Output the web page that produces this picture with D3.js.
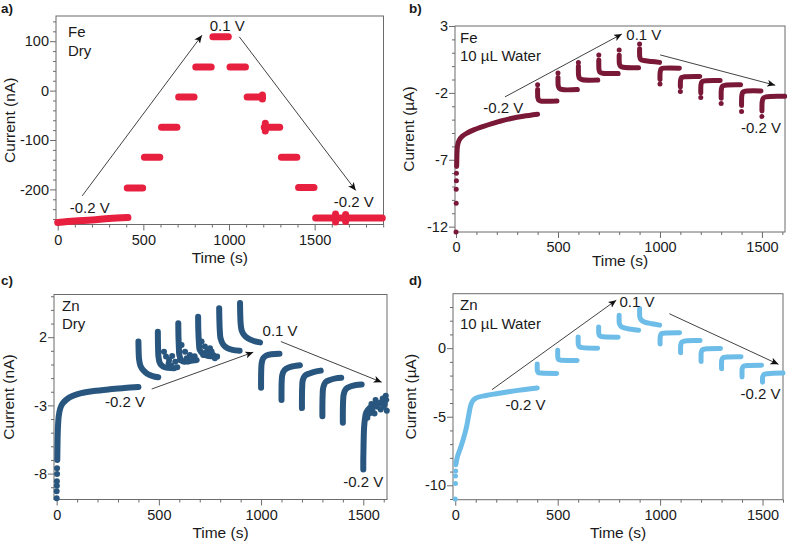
<!DOCTYPE html>
<html><head><meta charset="utf-8">
<script src="https://cdn.jsdelivr.net/npm/d3@7"></script>
<style>
body{margin:0;background:#fff}
svg{display:block}
text{font-family:"Liberation Sans",Arial,Helvetica,sans-serif;fill:#1a1a1a}
</style></head><body>
<svg id="chart" width="787" height="542"></svg>
<script>
// ---------------- DATA ----------------
const timeTickLabels = [0, 500, 1000, 1500];

// a) Fe, Dry — current in nA
const feDryYTicks = [-200, -100, 0, 100];
const feDrySegments = [
  [[0,-267],[100,-264],[200,-262],[300,-259],[410,-257]],
  [[406,-197],[496,-197]],
  [[506,-135],[596,-135]],
  [[606,-74],[696,-74]],
  [[706,-13],[796,-13]],
  [[806,48],[896,48]],
  [[906,109],[996,109]],
  [[1006,48],[1096,48]],
  [[1106,-13],[1196,-13]],
  [[1206,-74],[1296,-74]],
  [[1306,-135],[1396,-135]],
  [[1406,-196],[1496,-196]],
  [[1506,-258],[1895,-258]]
];
const feDryIsolated = [[1195,-9],[1195,-17],[1212,-66],[1212,-82],[1208,-74],[1622,-250],[1622,-266],[1681,-251],[1681,-265]];
const feDryArrows = [[[143,-213],[842,112]], [[1060,109],[1740,-202]]];
const feDryVoltLabels = [["-0.2 V",187,-237],["0.1 V",990,131],["-0.2 V",1729,-224]];

// b) Fe, 10 µL water — current in µA
const feWetYTicks = [-12, -7, -2, 3];
const feWetSegments = [
  [[3,-7.5],[4,-7.0],[5,-6.4],[8,-5.9],[15,-5.55],[30,-5.25],[55,-5.0],[90,-4.75],[135,-4.5],[180,-4.28],[220,-4.1],[270,-3.92],[330,-3.75],[400,-3.6]],
  [[400,-1.75],[400,-2.05],[401,-2.35],[406,-2.55],[420,-2.62],[495,-2.6]],
  [[500,-0.85],[500,-1.15],[501,-1.45],[506,-1.65],[520,-1.75],[595,-1.75]],
  [[600,0.0],[600,-0.35],[601,-0.7],[606,-0.92],[620,-1.02],[695,-1.04]],
  [[700,0.45],[700,0.1],[701,-0.25],[706,-0.45],[720,-0.53],[795,-0.55]],
  [[800,0.82],[800,0.5],[801,0.2],[806,0.0],[820,-0.08],[895,-0.12]],
  [[900,1.3],[900,1.0],[901,0.7],[906,0.5],[920,0.42],[960,0.35],[998,0.28]],
  [[1000,-1.0],[1000,-0.7],[1001,-0.45],[1006,-0.2],[1020,-0.15],[1095,-0.15]],
  [[1100,-1.55],[1100,-1.3],[1101,-1.05],[1106,-0.85],[1120,-0.8],[1195,-0.78]],
  [[1200,-2.0],[1200,-1.7],[1201,-1.4],[1206,-1.17],[1220,-1.1],[1295,-1.08]],
  [[1300,-2.4],[1300,-2.05],[1301,-1.75],[1306,-1.5],[1320,-1.43],[1395,-1.4]],
  [[1400,-2.95],[1400,-2.6],[1401,-2.25],[1406,-1.95],[1420,-1.87],[1495,-1.85]],
  [[1500,-3.35],[1500,-3.0],[1501,-2.7],[1506,-2.4],[1520,-2.3],[1612,-2.26]]
];
const feWetIsolated = [[0,-12.4],[1,-10.25],[1,-9.2],[2,-8.56],[2,-8.0],
  [400,-1.4],[500,-0.52],[600,0.28],[700,0.83],[800,1.2],[900,1.66],
  [1000,-1.33],[1100,-1.9],[1200,-2.35],[1300,-2.8],[1400,-3.4],[1500,-3.76]];
const feWetArrows = [[[240,-2.3],[813,2.4]], [[1001,0.84],[1565,-1.43]]];
const feWetVoltLabels = [["-0.2 V",232,-3.1],["0.1 V",921,2.35],["-0.2 V",1495,-4.59]];

// c) Zn, Dry — current in nA
const znDryYTicks = [-8, -3, 2];
const znDrySegments = [
  [[3,-7.0],[4,-6.0],[5,-5.2],[7,-4.4],[10,-3.8],[18,-3.2],[30,-2.85],[50,-2.55],[80,-2.3],[120,-2.1],[180,-1.95],[260,-1.82],[330,-1.73],[400,-1.65]],
  [[400,1.68],[401,1.0],[403,0.4],[410,-0.1],[425,-0.45],[445,-0.7],[470,-0.85],[497,-0.94]],
  [[495,2.4],[496,1.3],[498,0.58],[505,0.1],[520,-0.15],[545,-0.25],[575,-0.28]],
  [[595,3.03],[596,2.0],[598,1.2],[600,0.7],[610,0.3],[625,0.2],[650,0.25],[685,0.33]],
  [[692,3.5],[693,2.5],[696,1.6],[700,1.07],[715,0.8],[735,0.65],[760,0.6],[785,0.58]],
  [[795,4.13],[796,3.3],[798,2.5],[802,1.9],[815,1.45],[835,1.2],[860,1.07],[895,1.0]],
  [[897,4.5],[898,3.7],[900,3.0],[905,2.5],[915,2.2],[935,1.92],[965,1.72],[995,1.62]],
  [[1000,-1.7],[1000,-1.0],[1001,-0.3],[1003,0.1],[1010,0.45],[1025,0.65],[1050,0.75],[1090,0.78]],
  [[1100,-2.6],[1100,-1.8],[1101,-1.2],[1104,-0.75],[1115,-0.4],[1135,-0.22],[1160,-0.12],[1190,-0.05]],
  [[1200,-3.2],[1200,-2.4],[1201,-1.7],[1204,-1.15],[1215,-0.82],[1240,-0.64],[1265,-0.52],[1292,-0.45]],
  [[1300,-3.79],[1300,-3.0],[1301,-2.3],[1304,-1.7],[1315,-1.3],[1340,-1.12],[1365,-1.02],[1392,-0.97]],
  [[1400,-4.28],[1400,-3.5],[1401,-2.8],[1404,-2.2],[1415,-1.8],[1440,-1.6],[1465,-1.5],[1492,-1.46]],
  [[1500,-7.7],[1500,-7.0],[1501,-6.2],[1502,-5.4],[1504,-4.6],[1508,-4.0],[1515,-3.5],[1530,-3.2],[1550,-3.0],[1575,-2.85],[1600,-2.7],[1612,-2.6]]
];
const znDryIsolated = [[0,-9.8],[0,-9.3],[1,-8.9],[1,-8.57],[2,-8.03],[2,-7.6],
  [525,0.94],[535,0.58],[550,0.33],[548,0.09],[565,0.62],[590,-0.2],[580,0.2],[560,-0.1],
  [611,1.43],[628,0.94],[636,0.45],[652,0.7],[668,0.33],[603,0.33],[644,0.21],[660,0.55],[675,0.6],
  [709,1.68],[725,1.31],[734,0.94],[750,1.19],[766,0.7],[717,0.7],[774,0.45],[742,0.85],[758,0.95],
  [1520,-3.9],[1530,-3.6],[1545,-3.3],[1560,-2.6],[1585,-3.3],[1600,-3.1],[1610,-2.3],[1595,-2.5],
  [1570,-3.1],[1540,-2.9],[1555,-3.6],[1615,-3.4],[1605,-2.9]];
const znDryArrows = [[[465,-1.8],[962,0.9]], [[1097,1.68],[1590,-1.3]]];
const znDryVoltLabels = [["-0.2 V",334,-2.7],["0.1 V",1093,2.5],["-0.2 V",1500,-8.57]];

// d) Zn, 10 µL water — current in µA
const znWetYTicks = [-10, -5, 0];
const znWetSegments = [
  [[3,-8.5],[10,-7.95],[25,-7.3],[40,-6.6],[55,-5.75],[65,-4.95],[75,-4.2],[85,-3.85],[100,-3.65],[150,-3.45],[200,-3.32],[260,-3.18],[330,-3.03],[400,-2.9]],
  [[400,-1.16],[400,-1.4],[401,-1.65],[405,-1.78],[420,-1.82],[495,-1.85]],
  [[500,-0.15],[500,-0.4],[501,-0.7],[506,-0.85],[520,-0.88],[595,-0.9]],
  [[600,0.82],[600,0.55],[601,0.25],[606,0.1],[620,0.04],[695,0.0]],
  [[700,1.55],[700,1.3],[701,1.05],[707,0.88],[725,0.83],[795,0.8]],
  [[800,2.4],[800,2.1],[801,1.8],[808,1.6],[825,1.47],[860,1.38],[895,1.3]],
  [[900,2.89],[900,2.6],[901,2.28],[908,2.05],[925,1.9],[960,1.78],[998,1.68]],
  [[1000,0.3],[1000,0.6],[1001,0.85],[1006,1.05],[1025,1.1],[1095,1.12]],
  [[1100,-0.34],[1100,0.0],[1101,0.25],[1107,0.45],[1125,0.53],[1195,0.55]],
  [[1200,-0.97],[1200,-0.6],[1201,-0.3],[1207,-0.12],[1225,-0.05],[1295,-0.02]],
  [[1300,-1.5],[1300,-1.15],[1301,-0.87],[1307,-0.7],[1325,-0.65],[1395,-0.63]],
  [[1400,-2.1],[1400,-1.75],[1401,-1.48],[1407,-1.32],[1425,-1.27],[1495,-1.24]],
  [[1500,-2.48],[1500,-2.25],[1501,-2.09],[1507,-1.92],[1525,-1.86],[1600,-1.82]]
];
const znWetIsolated = [[0,-11.0],[1,-9.87],[1,-9.32],[2,-8.95]];
const znWetArrows = [[[179,-3.03],[786,3.5]], [[1045,2.51],[1578,-1.18]]];
const znWetVoltLabels = [["-0.2 V",343,-4.12],["0.1 V",887,3.37],["-0.2 V",1490,-3.3]];

// ---------------- LAYOUT ----------------
const panels = [
  {letter:"a)", lx:1, ly:12.5, box:{l:56,r:383.5,t:16,b:224.5}, xDom:[-10,1902], yDom:[-271,151],
   yTicks:feDryYTicks, yMinorStep:20, xMax:1900, color:"#e8203f", w:7,
   segs:feDrySegments, iso:feDryIsolated, arrows:feDryArrows, labels:feDryVoltLabels,
   yTitle:"Current (nA)", yTitleX:9, xTitleY:257, notes:["Fe","Dry"], noteX:68, noteY:[31,50]},
  {letter:"b)", lx:409, ly:12.5, box:{l:455,r:785,t:26,b:232}, xDom:[-5,1613], yDom:[-12.4,3],
   yTicks:feWetYTicks, yMinorStep:1, xMax:1600, color:"#7a1838", w:5,
   segs:feWetSegments, iso:feWetIsolated, arrows:feWetArrows, labels:feWetVoltLabels,
   yTitle:"Current (µA)", yTitleX:408, xTitleY:260, notes:["Fe","10 µL Water"], noteX:460, noteY:[37,55]},
  {letter:"c)", lx:1, ly:285, box:{l:54,r:387,t:294.5,b:499.5}, xDom:[-13,1616], yDom:[-9.9,5.13],
   yTicks:znDryYTicks, yMinorStep:1, xMax:1600, color:"#28567e", w:6,
   segs:znDrySegments, iso:znDryIsolated, arrows:znDryArrows, labels:znDryVoltLabels,
   yTitle:"Current (nA)", yTitleX:8, xTitleY:532.5, notes:["Zn","Dry"], noteX:62, noteY:[305,323]},
  {letter:"d)", lx:409, ly:285, box:{l:453,r:783,t:293.7,b:499.7}, xDom:[-11,1600], yDom:[-11.05,3.97],
   yTicks:znWetYTicks, yMinorStep:1, xMax:1600, color:"#6dbde8", w:5,
   segs:znWetSegments, iso:znWetIsolated, arrows:znWetArrows, labels:znWetVoltLabels,
   yTitle:"Current (µA)", yTitleX:410, xTitleY:532.5, notes:["Zn","10 µL Water"], noteX:460, noteY:[304,323]}
];

const svg = d3.select("#chart");
const defs = svg.append("defs");
defs.append("marker").attr("id","arrowHead")
  .attr("markerUnits","userSpaceOnUse").attr("markerWidth",9).attr("markerHeight",8)
  .attr("refX",8).attr("refY",3.5).attr("orient","auto")
  .append("path").attr("d","M0,0 L8,3.5 L0,7 L2,3.5 Z").attr("fill","#111");

const axisColor = "#6b6b6b";

panels.forEach(p => {
  const b = p.box;
  const x = d3.scaleLinear().domain(p.xDom).range([b.l, b.r]);
  const y = d3.scaleLinear().domain(p.yDom).range([b.b, b.t]);
  const g = svg.append("g");

  const yMinor = d3.range(Math.ceil(p.yDom[0]/p.yMinorStep)*p.yMinorStep, p.yDom[1], p.yMinorStep)
      .filter(v => !p.yTicks.includes(v));
  const xMinor = d3.range(0, p.xMax + 1, 100).filter(v => !timeTickLabels.includes(v));

  const ax = (sel) => { sel.select(".domain").remove(); sel.selectAll("line").attr("stroke",axisColor); };

  g.append("g").attr("transform",`translate(${b.l},0)`)
    .call(d3.axisLeft(y).tickValues(yMinor).tickSize(3).tickFormat("")).call(ax);
  g.append("g").attr("transform",`translate(0,${b.b})`)
    .call(d3.axisBottom(x).tickValues(xMinor).tickSize(3).tickFormat("")).call(ax);
  const yax = g.append("g").attr("transform",`translate(${b.l},0)`)
    .call(d3.axisLeft(y).tickValues(p.yTicks).tickSize(6).tickPadding(1).tickFormat(d => String(d))).call(ax);
  yax.selectAll("text").attr("font-size",14.5).attr("fill","#1a1a1a");
  const xax = g.append("g").attr("transform",`translate(0,${b.b})`)
    .call(d3.axisBottom(x).tickValues(timeTickLabels).tickSize(6).tickPadding(4).tickFormat(d => String(d))).call(ax);
  xax.selectAll("text").attr("font-size",14.5).attr("fill","#1a1a1a");

  g.append("rect").attr("x",b.l).attr("y",b.t).attr("width",b.r-b.l).attr("height",b.b-b.t)
    .attr("fill","none").attr("stroke",axisColor).attr("stroke-width",1);

  const line = d3.line().x(d => x(d[0])).y(d => y(d[1])).curve(d3.curveCatmullRom.alpha(0.5));
  g.append("g").selectAll("path").data(p.segs).join("path")
    .attr("d", line).attr("fill","none").attr("stroke",p.color)
    .attr("stroke-width",p.w).attr("stroke-linecap","round").attr("stroke-linejoin","round");
  g.append("g").selectAll("circle").data(p.iso).join("circle")
    .attr("cx", d => x(d[0])).attr("cy", d => y(d[1])).attr("r", p.w/2).attr("fill",p.color);

  g.append("g").selectAll("line").data(p.arrows).join("line")
    .attr("x1", d => x(d[0][0])).attr("y1", d => y(d[0][1]))
    .attr("x2", d => x(d[1][0])).attr("y2", d => y(d[1][1]))
    .attr("stroke","#111").attr("stroke-width",0.8).attr("marker-end","url(#arrowHead)");

  g.append("g").selectAll("text").data(p.labels).join("text")
    .attr("x", d => x(d[1])).attr("y", d => y(d[2])).attr("text-anchor","middle")
    .attr("dominant-baseline","central").attr("font-size",15).text(d => d[0]);

  p.notes.forEach((t,i) => g.append("text").attr("x",p.noteX).attr("y",p.noteY[i])
    .attr("dominant-baseline","central").attr("font-size",15).text(t));

  g.append("text").attr("transform",`translate(${p.yTitleX},${(b.t+b.b)/2}) rotate(-90)`)
    .attr("text-anchor","middle").attr("dominant-baseline","central").attr("font-size",15.5).text(p.yTitle);
  g.append("text").attr("x",(b.l+b.r)/2).attr("y",p.xTitleY).attr("text-anchor","middle")
    .attr("dominant-baseline","central").attr("font-size",15.5).text("Time (s)");
  g.append("text").attr("x",p.lx).attr("y",p.ly).attr("font-size",13.5).attr("font-weight","bold").text(p.letter);
});
</script>
</body></html>
